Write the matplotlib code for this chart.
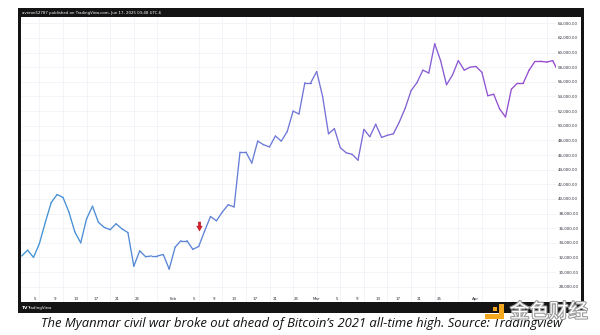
import matplotlib
matplotlib.use("Agg")
import matplotlib.pyplot as plt
import matplotlib.dates as mdates
import matplotlib.patheffects as pe
from matplotlib.collections import LineCollection
from matplotlib.colors import LinearSegmentedColormap
from matplotlib.patches import Rectangle
from matplotlib.path import Path
from matplotlib.ticker import FixedLocator, FuncFormatter
import numpy as np
import pandas as pd

# ---- data -----------------------------------------------------------------
start_date = "2021-01-02"
btc_close = [
    # Jan 2 - Jan 31
    32.2, 33.0, 32.0, 33.9, 36.8, 39.5, 40.6, 40.2, 38.2, 35.5,
    34.0, 37.3, 39.0, 36.8, 36.1, 35.8, 36.6, 35.9, 35.4, 30.8,
    32.9, 32.1, 32.2, 32.2, 32.4, 30.4, 33.4, 34.3, 34.3, 33.1,
    # Feb 1 - Feb 28
    33.5, 35.6, 37.6, 37.0, 38.2, 39.2, 38.9, 46.4, 46.4, 44.9,
    47.9, 47.4, 47.1, 48.6, 47.9, 49.2, 52.0, 51.6, 55.9, 55.9,
    57.4, 54.0, 48.9, 49.6, 47.0, 46.3, 46.1, 45.3,
    # Mar 1 - Mar 31
    49.5, 48.5, 50.2, 48.4, 48.7, 48.9, 50.5, 52.4, 54.8, 55.9,
    57.6, 57.2, 61.2, 58.9, 55.6, 56.9, 58.9, 57.6, 58.0, 58.1,
    57.3, 54.1, 54.3, 52.3, 51.2, 55.0, 55.8, 55.8, 57.6, 58.8,
    58.8,
    # Apr 1 - Apr 3
    58.7, 58.9, 57.3,
]
coup_date = "2021-02-01"
coup_marker_price = 36300

price_ticks = list(range(28000, 64001, 2000))
tick_dates = [
    "2021-01-05", "2021-01-09", "2021-01-13", "2021-01-17", "2021-01-21",
    "2021-01-25", "2021-02-01", "2021-02-05", "2021-02-09", "2021-02-13",
    "2021-02-17", "2021-02-21", "2021-02-25", "2021-03-01", "2021-03-05",
    "2021-03-09", "2021-03-13", "2021-03-17", "2021-03-21", "2021-03-25",
    "2021-04-01",
]
tick_labels = [
    "5", "9", "13", "17", "21", "25", "Feb", "5", "9", "13", "17", "21",
    "25", "Mar", "5", "9", "13", "17", "21", "25", "Apr",
]
header_text = "averon52787 published on TradingView.com, Jun 17, 2025 03:48 UTC-6"
caption_text = ("The Myanmar civil war broke out ahead of Bitcoin\u2019s 2021 "
                "all-time high. Source: Tradingview")
watermark_text = "金色财经"

# ---- figure helpers (pixel layout) ----------------------------------------
W, H = 600, 335
fig = plt.figure(figsize=(W / 100, H / 100), dpi=100)
fig.patch.set_facecolor("white")


def fx(px):
    return px / W


def fy(py):
    return 1 - py / H


def fig_rect(x0, y0, x1, y1, color, z=0):
    fig.patches.append(Rectangle((fx(x0), fy(y1)), fx(x1) - fx(x0),
                                 fy(y0) - fy(y1), transform=fig.transFigure,
                                 facecolor=color, edgecolor="none", zorder=z))


# dark chart frame: header bar, side borders, footer bar
frame_color = "#141414"
fig_rect(18, 8, 584, 17, frame_color)
fig_rect(18, 8, 21, 313, frame_color)
fig_rect(581, 8, 584, 313, frame_color)
fig_rect(18, 302, 584, 313, frame_color)

fig.text(fx(22), fy(12.6), header_text, color="white", fontsize=2.8,
         ha="left", va="center")
fig.text(fx(22), fy(308), "TV", color="white", fontsize=3.2,
         fontweight="bold", ha="left", va="center")
fig.text(fx(27.5), fy(308), "TradingView", color="white", fontsize=2.9,
         ha="left", va="center")

# ---- main price panel -----------------------------------------------------
ax = fig.add_axes([fx(21), fy(302), fx(556) - fx(21), fy(17) - fy(302)])
ax.set_facecolor("white")
for s in ax.spines.values():
    s.set_visible(False)

dates = pd.date_range(start_date, periods=len(btc_close), freq="D")
xd = mdates.date2num(dates)
yv = np.array(btc_close) * 1000.0

pts = np.column_stack([xd, yv]).reshape(-1, 1, 2)
segs = np.concatenate([pts[:-1], pts[1:]], axis=1)
cmap = LinearSegmentedColormap.from_list("tv_grad", ["#3f93d3", "#6f79d8", "#9a45cf"])
lc = LineCollection(segs, cmap=cmap, linewidths=0.95, capstyle="round",
                    joinstyle="round", zorder=3)
lc.set_array(np.linspace(0, 1, len(segs)))
ax.add_collection(lc)

x0 = mdates.date2num(pd.Timestamp(start_date))
ax.set_xlim(x0 - 0.12, x0 + 90.56)
ax.set_ylim(25909, 64861)

# vertical grid at the calendar tick dates, horizontal grid at price ticks
ax.xaxis.set_major_locator(FixedLocator(mdates.date2num(pd.to_datetime(tick_dates))))
ax.tick_params(axis="x", length=0, labelbottom=False)
ax.yaxis.set_major_locator(FixedLocator(price_ticks))
ax.yaxis.set_major_formatter(FuncFormatter(lambda v, p: f"{v:,.2f}"))
ax.yaxis.tick_right()
ax.tick_params(axis="y", length=0, pad=1.6, labelsize=2.9, labelcolor="#2a2e39")
ax.grid(True, color="#eef0f5", linewidth=0.5, zorder=0)
ax.set_axisbelow(True)

# red down-arrow marking the coup date
arrow = Path([(-0.28, 1.0), (0.28, 1.0), (0.28, 0.1), (0.62, 0.1), (0.0, -1.0),
              (-0.62, 0.1), (-0.28, 0.1), (-0.28, 1.0)],
             [Path.MOVETO] + [Path.LINETO] * 6 + [Path.CLOSEPOLY])
ax.plot([mdates.date2num(pd.Timestamp(coup_date))], [coup_marker_price],
        marker=arrow, markersize=6.5, color="#d7202a", markeredgecolor="#a8141c",
        markeredgewidth=0.3, linestyle="none", zorder=4)

# ---- date label strip -----------------------------------------------------
lab = fig.add_axes([fx(21), fy(297), fx(556) - fx(21), 0.0001])
lab.set_facecolor("none")
for s in lab.spines.values():
    s.set_visible(False)
lab.set_yticks([])
j5 = mdates.date2num(pd.Timestamp("2021-01-05"))
a1 = mdates.date2num(pd.Timestamp("2021-04-01"))
lab.set_xlim(j5 - 2.74, a1 + 15.83)
lab.set_xticks(mdates.date2num(pd.to_datetime(tick_dates)))
lab.set_xticklabels(tick_labels)
lab.tick_params(axis="x", length=0, pad=0, labelsize=2.9, labelcolor="#2a2e39")

# ---- caption and watermark ------------------------------------------------
fig.text(fx(302), fy(323.5), caption_text, fontsize=9.35, style="italic",
         family="Open Sans", color="#111111", ha="center", va="center")

logo_color = "#f4a81d"
fig_rect(498.5, 303.5, 503.5, 318.5, logo_color, z=5)
fig_rect(493.0, 307.0, 497.0, 311.0, logo_color, z=5)
fig_rect(485.0, 313.5, 503.5, 318.5, logo_color, z=5)
wm = fig.text(fx(549), fy(312), watermark_text, fontsize=14,
              family=["Noto Sans CJK SC", "DejaVu Sans"], color="white",
              ha="center", va="center", zorder=6)
wm.set_path_effects([pe.withStroke(linewidth=1.6, foreground="#9b9b9b")])

fig.savefig("out.png", dpi=100)
